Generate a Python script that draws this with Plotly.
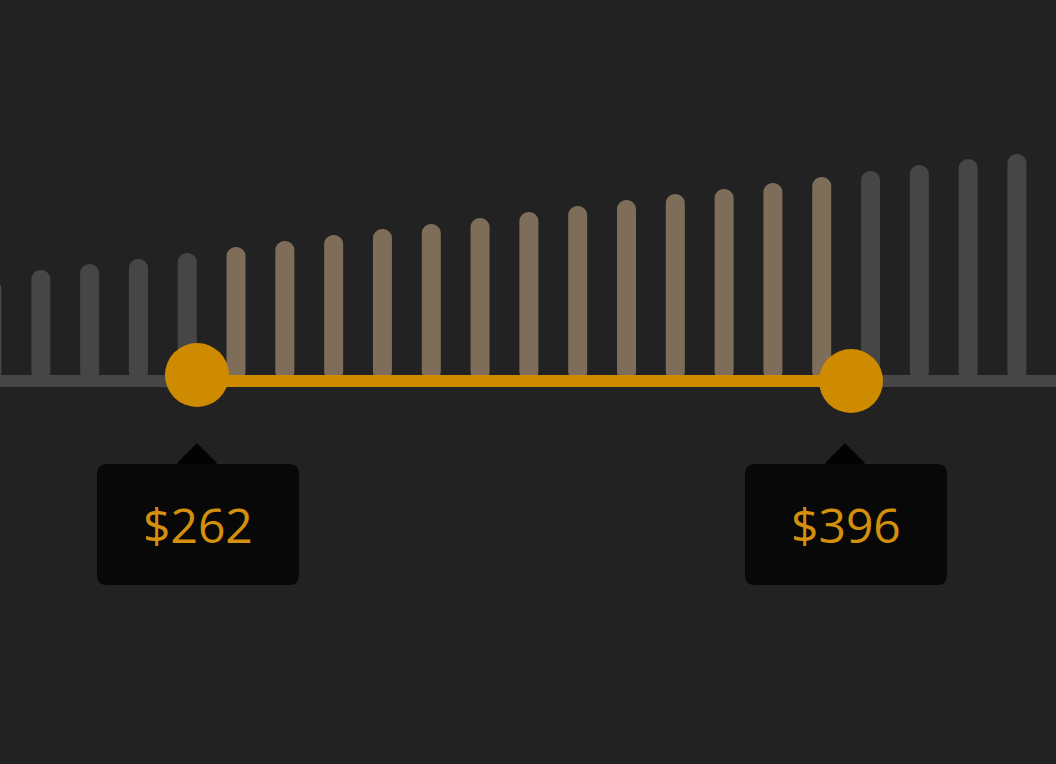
import plotly.graph_objects as go

# ---- data ----
prices = [220, 230, 240, 250, 260, 270, 280, 290, 300, 310, 320,
          330, 340, 350, 360, 370, 380, 390, 400, 410, 420, 430, 440]
counts = [101, 111, 117, 122, 128, 134, 140, 146, 152, 157, 163,
          169, 175, 181, 187, 192, 198, 204, 210, 216, 222, 227, 233]
range_low = 262
range_high = 396
labels = ["$262", "$396"]

# ---- style ----
BG = "#222222"
GREY = "#464646"
TAN = "#7e6e59"
ORANGE = "#cf8b00"
TEXT_ORANGE = "#d4900c"
BOX = "#080808"
DIAMOND = "#030303"
TIP_SHIFT = [1, -5]   # horizontal pixel nudge of each tooltip

W, H = 1056, 764
px_per_dollar = 654 / 134.0
x_lo = range_low - 197 / px_per_dollar
x_hi = range_low + (W - 197) / px_per_dollar
y_top = 381
y_bot = -(H - 381)

bar_colors = [TAN if range_low <= p <= range_high else GREY for p in prices]

fig = go.Figure()
fig.add_trace(go.Bar(
    x=prices, y=counts, base=0,
    width=19 / px_per_dollar,
    marker=dict(color=bar_colors, line=dict(width=0)),
    hoverinfo="skip",
))
# track
fig.add_trace(go.Scatter(
    x=[x_lo, x_hi], y=[0, 0], mode="lines",
    line=dict(color=GREY, width=12), hoverinfo="skip",
))
# selected range
fig.add_trace(go.Scatter(
    x=[range_low, range_high], y=[0, 0], mode="lines",
    line=dict(color=ORANGE, width=12), hoverinfo="skip",
))
# handles
fig.add_trace(go.Scatter(
    x=[range_low, range_high], y=[6, 0], mode="markers",
    marker=dict(color=ORANGE, size=64, line=dict(width=0)),
    hoverinfo="skip",
))

def rounded_box(x0, x1, y0, y1, r):
    # y0 top (larger), y1 bottom (smaller), pixel coords (up positive)
    return (f"M {x0+r},{y0} L {x1-r},{y0} Q {x1},{y0} {x1},{y0-r} "
            f"L {x1},{y1+r} Q {x1},{y1} {x1-r},{y1} "
            f"L {x0+r},{y1} Q {x0},{y1} {x0},{y1+r} "
            f"L {x0},{y0-r} Q {x0},{y0} {x0+r},{y0} Z")

shapes = []
annotations = []
for v, t, s in zip((range_low, range_high), labels, TIP_SHIFT):
    shapes.append(dict(
        type="path", xref="x", yref="y", xsizemode="pixel", ysizemode="pixel",
        xanchor=v, yanchor=0,
        path=f"M {s-1},-62 L {s+19},-82 L {s-1},-102 L {s-21},-82 Z",
        fillcolor=DIAMOND, line=dict(width=0), layer="above",
    ))
    shapes.append(dict(
        type="path", xref="x", yref="y", xsizemode="pixel", ysizemode="pixel",
        xanchor=v, yanchor=0,
        path=rounded_box(s - 101, s + 101, -83, -204, 10),
        fillcolor=BOX, line=dict(width=0), layer="above",
    ))
    annotations.append(dict(
        x=v, y=-143, xref="x", yref="y", text=t, showarrow=False,
        xshift=s,
        font=dict(family="Open Sans", size=48, color=TEXT_ORANGE),
        xanchor="center", yanchor="middle",
    ))

fig.update_layout(
    width=W, height=H,
    margin=dict(l=0, r=0, t=0, b=0),
    paper_bgcolor=BG, plot_bgcolor=BG,
    showlegend=False,
    barcornerradius=9,
    shapes=shapes, annotations=annotations,
    xaxis=dict(range=[x_lo, x_hi], visible=False, fixedrange=True),
    yaxis=dict(range=[y_bot, y_top], visible=False, fixedrange=True),
    hovermode=False,
)

fig.write_html(
    "out.html",
    config={"displayModeBar": False},
    post_script="document.body.style.margin='0';document.body.style.background='#222222';document.body.style.overflow='hidden';",
)
